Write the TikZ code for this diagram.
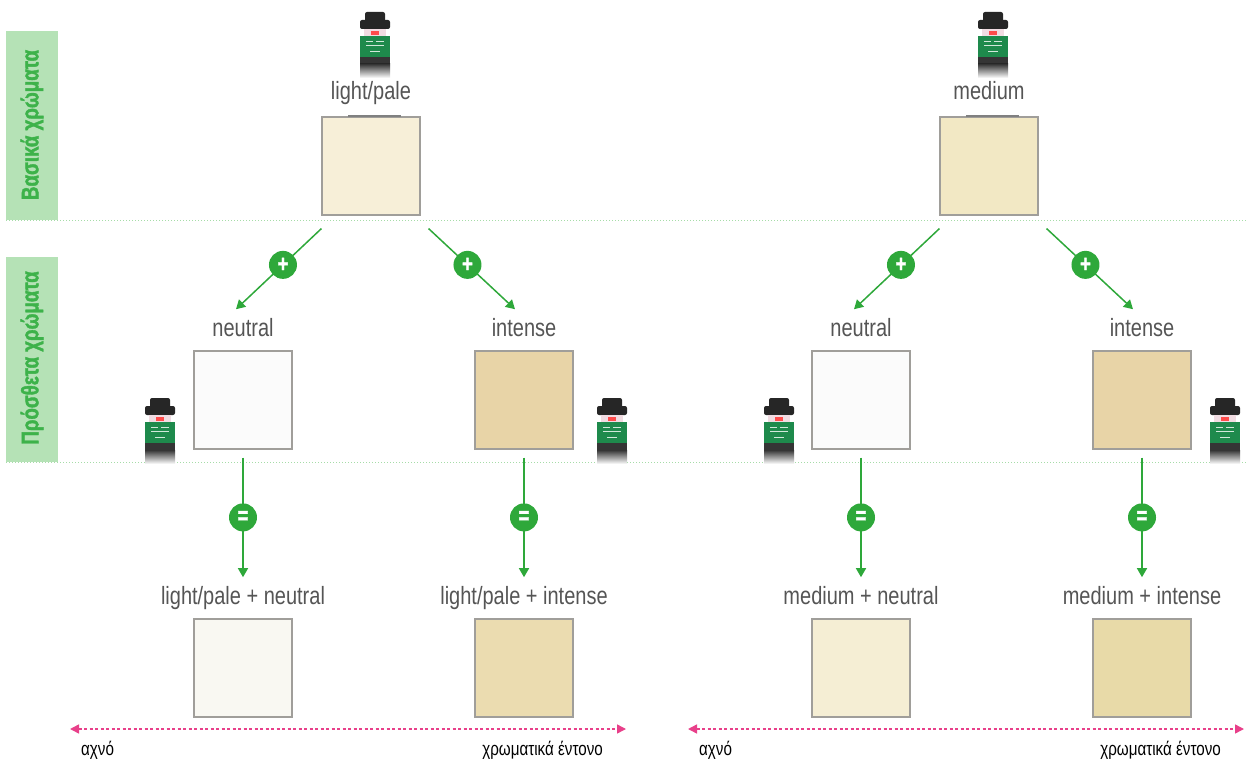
\documentclass[tikz,border=0pt]{standalone}
\usepackage{fontspec}
\setmainfont{Liberation Sans}[FakeStretch=0.8]
\newfontfamily\heavyfont{Liberation Sans}[FakeStretch=0.78,BoldFeatures={FakeBold=1.5}]
\usetikzlibrary{positioning,arrows.meta}

\definecolor{mixgreen}{HTML}{2EA83A}
\definecolor{barfill}{HTML}{B5E2B6}
\definecolor{bartextgreen}{HTML}{3DB24A}
\definecolor{sepgreen}{HTML}{A6DCA8}
\definecolor{swatchgray}{HTML}{A09E9A}
\definecolor{taggray}{HTML}{555555}
\definecolor{scalepink}{HTML}{E8408A}
\definecolor{lpcol}{HTML}{F7EFD8}
\definecolor{mdcol}{HTML}{F2E8C4}
\definecolor{neutralcol}{HTML}{FBFBFB}
\definecolor{intensecol}{HTML}{E8D4A7}
\definecolor{lpNcol}{HTML}{F9F8F2}
\definecolor{lpIcol}{HTML}{EBDCB0}
\definecolor{mdNcol}{HTML}{F5EED4}
\definecolor{mdIcol}{HTML}{E8DAA8}
\definecolor{capgray}{HTML}{262626}
\definecolor{neckpink}{HTML}{F1DCE2}
\definecolor{labelgreen}{HTML}{1E8A4C}
\definecolor{bottledark}{HTML}{353535}

\tikzset{bottle/.pic={
  \fill[capgray,rounded corners=2] (-10,0) rectangle (10,10);
  \fill[capgray,rounded corners=2] (-15,8) rectangle (15,17);
  \fill[neckpink] (-11,17) rectangle (11,24);
  \fill[red!60!pink] (-4,19) rectangle (4,23);
  \fill[labelgreen] (-15,24) rectangle (15,45);
  \draw[white!80!labelgreen,line width=0.6pt] (-9,29) -- (-2,29) (1,29) -- (9,29) (-9,33) -- (9,33) (-5,39) -- (5,39);
  \fill[bottledark] (-15,45) rectangle (15,52);
  \shade[top color=bottledark,bottom color=white] (-15,52) rectangle (15,66);
}}

\begin{document}
\begin{tikzpicture}[x=1pt,y=-1pt,
  swatch/.style={draw=swatchgray,line width=1.2pt,minimum size=98pt,inner sep=0pt},
  tag/.style={inner sep=0pt,text depth=5pt,text=taggray,font=\fontsize{25}{25}\selectfont},
  badge/.style={circle,fill=mixgreen,text=white,minimum size=28pt,inner sep=0pt,font=\heavyfont\bfseries\fontsize{24}{24}\selectfont},
  mix/.style={draw=mixgreen,line width=1.5pt,-{Triangle[length=9pt,width=10pt]}},
  topmark/.style={draw=gray,line width=2pt},
  bartext/.style={rotate=90,text=bartextgreen,font=\heavyfont\bfseries\fontsize{24}{24}\selectfont},
  sep/.style={draw=sepgreen,line width=0.8pt,dash pattern=on 1pt off 2pt},
  scalearrow/.style={draw=scalepink,line width=1.5pt,dash pattern=on 3pt off 2.5pt,{Triangle[length=9pt,width=9pt]}-{Triangle[length=9pt,width=9pt]}},
  scaletag/.style={inner sep=0pt,text=black,font=\fontsize{19}{19}\selectfont}]
  \useasboundingbox (0,0) rectangle (1247,762);

  % side bars
  \fill[barfill] (6,31) rectangle (58,220);
  \fill[barfill] (6,257) rectangle (58,462);
  \node[bartext] (basicBar) at (32,125) {Βασικά χρώματα};
  \node[bartext] (extraBar) at (32,358) {Πρόσθετα χρώματα};
  \draw[sep] (6,220) -- (1247,220);
  \draw[sep] (6,462) -- (1247,462);

  % light/pale half
  \node[swatch,fill=lpcol] (lp) at (371,166) {};
  \node[tag,above=12pt of lp] (lpTag) {light/pale};
  \draw[topmark] ([xshift=27pt]lp.north west) -- ([xshift=80pt]lp.north west);
  \node[swatch,fill=neutralcol] (lpN) at (243,400) {};
  \node[tag,above=9pt of lpN] (lpNTag) {neutral};
  \node[swatch,fill=intensecol] (lpI) at (524,400) {};
  \node[tag,above=9pt of lpI] (lpITag) {intense};
  \node[swatch,fill=lpNcol] (lpNr) at (243,668) {};
  \node[tag,above=9pt of lpNr] (lpNrTag) {light/pale + neutral};
  \node[swatch,fill=lpIcol] (lpIr) at (524,668) {};
  \node[tag,above=9pt of lpIr] (lpIrTag) {light/pale + intense};
  \pic at (375,12) {bottle};
  \pic at (160,398) {bottle};
  \pic at (612,398) {bottle};
  \draw[mix] ([shift={(0,13)}]lp.south west) -- ([shift={(-7,-27)}]lpNTag.base) node[badge,pos=.45] {+};
  \draw[mix] ([shift={(8,13)}]lp.south east) -- ([shift={(-9,-27)}]lpITag.base) node[badge,pos=.45] {+};
  \draw[mix] ([shift={(0,8)}]lpN.south) -- ([shift={(0,-27)}]lpNrTag.base) node[badge,pos=.5] {=};
  \draw[mix] ([shift={(0,8)}]lpI.south) -- ([shift={(0,-27)}]lpIrTag.base) node[badge,pos=.5] {=};
  \coordinate (scaleL0) at (70,729);
  \coordinate (scaleL1) at (626,729);
  \draw[scalearrow] (scaleL0) -- (scaleL1);
  \node[scaletag,anchor=base west] (paleL) at (81,755) {αχνό};
  \node[scaletag,anchor=base east] (vividL) at (603,755) {χρωματικά έντονο};

  % medium half
  \node[swatch,fill=mdcol] (md) at (989,166) {};
  \node[tag,above=12pt of md] (mdTag) {medium};
  \draw[topmark] ([xshift=27pt]md.north west) -- ([xshift=80pt]md.north west);
  \node[swatch,fill=neutralcol] (mdN) at (861,400) {};
  \node[tag,above=9pt of mdN] (mdNTag) {neutral};
  \node[swatch,fill=intensecol] (mdI) at (1142,400) {};
  \node[tag,above=9pt of mdI] (mdITag) {intense};
  \node[swatch,fill=mdNcol] (mdNr) at (861,668) {};
  \node[tag,above=9pt of mdNr] (mdNrTag) {medium + neutral};
  \node[swatch,fill=mdIcol] (mdIr) at (1142,668) {};
  \node[tag,above=9pt of mdIr] (mdIrTag) {medium + intense};
  \pic at (993,12) {bottle};
  \pic at (779,398) {bottle};
  \pic at (1225,398) {bottle};
  \draw[mix] ([shift={(0,13)}]md.south west) -- ([shift={(-7,-27)}]mdNTag.base) node[badge,pos=.45] {+};
  \draw[mix] ([shift={(8,13)}]md.south east) -- ([shift={(-9,-27)}]mdITag.base) node[badge,pos=.45] {+};
  \draw[mix] ([shift={(0,8)}]mdN.south) -- ([shift={(0,-27)}]mdNrTag.base) node[badge,pos=.5] {=};
  \draw[mix] ([shift={(0,8)}]mdI.south) -- ([shift={(0,-27)}]mdIrTag.base) node[badge,pos=.5] {=};
  \coordinate (scaleR0) at (688,729);
  \coordinate (scaleR1) at (1244,729);
  \draw[scalearrow] (scaleR0) -- (scaleR1);
  \node[scaletag,anchor=base west] (paleR) at (699,755) {αχνό};
  \node[scaletag,anchor=base east] (vividR) at (1221,755) {χρωματικά έντονο};
\end{tikzpicture}
\end{document}
